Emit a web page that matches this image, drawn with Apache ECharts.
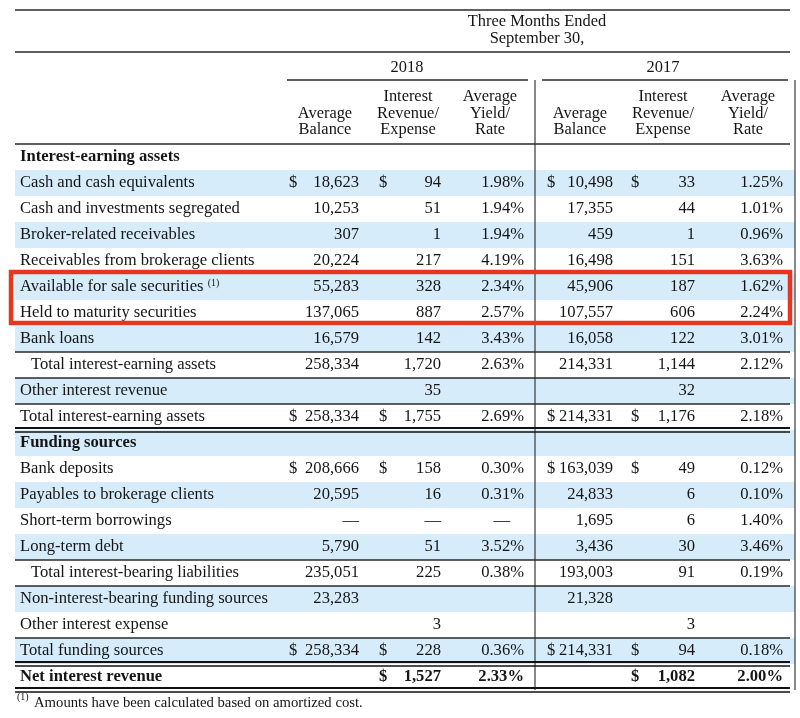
<!DOCTYPE html>
<html><head><meta charset="utf-8">
<script src="https://cdn.jsdelivr.net/npm/echarts@6/dist/echarts.min.js"></script>
<style>html,body{margin:0;padding:0;background:#fff}#c{width:800px;height:718px}</style>
</head><body><div id="c"></div>
<script>
// ---------- DATA ----------
const rowLabels = [
  "Interest-earning assets",
  "Cash and cash equivalents",
  "Cash and investments segregated",
  "Broker-related receivables",
  "Receivables from brokerage clients",
  "Available for sale securities",
  "Held to maturity securities",
  "Bank loans",
  "Total interest-earning assets",
  "Other interest revenue",
  "Total interest-earning assets",
  "Funding sources",
  "Bank deposits",
  "Payables to brokerage clients",
  "Short-term borrowings",
  "Long-term debt",
  "Total interest-bearing liabilities",
  "Non-interest-bearing funding sources",
  "Other interest expense",
  "Total funding sources",
  "Net interest revenue"
];
const boldRows = [0, 11, 20];
const indentRows = [8, 16];
const footnoteRows = [5];
const highlightRows = [5, 6];

const bal2018 = [null, 18623, 10253, 307, 20224, 55283, 137065, 16579, 258334, null, 258334, null, 208666, 20595, "—", 5790, 235051, 23283, null, 258334, null];
const int2018 = [null, 94, 51, 1, 217, 328, 887, 142, 1720, 35, 1755, null, 158, 16, "—", 51, 225, null, 3, 228, 1527];
const yld2018 = [null, 1.98, 1.94, 1.94, 4.19, 2.34, 2.57, 3.43, 2.63, null, 2.69, null, 0.30, 0.31, "—", 3.52, 0.38, null, null, 0.36, 2.33];
const bal2017 = [null, 10498, 17355, 459, 16498, 45906, 107557, 16058, 214331, null, 214331, null, 163039, 24833, 1695, 3436, 193003, 21328, null, 214331, null];
const int2017 = [null, 33, 44, 1, 151, 187, 606, 122, 1144, 32, 1176, null, 49, 6, 6, 30, 91, null, 3, 94, 1082];
const yld2017 = [null, 1.25, 1.01, 0.96, 3.63, 1.62, 2.24, 3.01, 2.12, null, 2.18, null, 0.12, 0.10, 1.40, 3.46, 0.19, null, null, 0.18, 2.00];

const dollarBal2018 = [1, 10, 12, 19];
const dollarInt2018 = [1, 10, 12, 19, 20];
const dollarBal2017 = [1, 10, 12, 19];
const dollarInt2017 = [1, 10, 12, 19, 20];

const periodTitle = ["Three Months Ended", "September 30,"];
const years = ["2018", "2017"];
const colHeaders = [
  ["", "Average", "Balance"],
  ["Interest", "Revenue/", "Expense"],
  ["Average", "Yield/", "Rate"]
];
const footnote = "Amounts have been calculated based on amortized cost.";
const footMark = "(1)";

// row boundaries (top edge of row index) carrying rules
const singleRules = [0, 8, 9, 10, 16, 17, 19];
const doubleRules = [11, 20, 21];

// ---------- LAYOUT ----------
const FONT = '"Liberation Serif", "Times New Roman", serif';
const INK = '#151515';
const LINE = '#2a2a2a';
const VLINE = '#3a3a3a';
const BLUE = '#d6ecfa';
const RED = '#e8351f';
const L = {
  size: 16.6, headSize: 16.4, footSize: 14.7,
  labelX: 20, indentX: 31,
  colRight: [359, 441, 524, 613, 695, 783],
  dollarX: [289, 379, null, 547, 631, null],
  headCenter: [325, 408, 490, 580, 663, 748],
  yearCenter: [407, 663],
  dividers: [535, 795],
  left: 15, right: 790, bandRight: 795,
  boxLeft: 11, boxRight: 790
};

const columns = [bal2018, int2018, yld2018, bal2017, int2017, yld2017];
const colKinds = ['num', 'num', 'pct', 'num', 'num', 'pct'];
const colDollars = [dollarBal2018, dollarInt2018, [], dollarBal2017, dollarInt2017, []];

function fmt(v, kind) {
  if (typeof v === 'string') return v;
  return kind === 'pct' ? v.toFixed(2) + '%' : v.toLocaleString('en-US');
}

// build cell table
const cells = [];
rowLabels.forEach((t, i) => {
  cells.push({
    value: [indentRows.includes(i) ? L.indentX : L.labelX, i],
    text: t, align: 'left', bold: boldRows.includes(i), sup: footnoteRows.includes(i)
  });
});
columns.forEach((col, c) => {
  col.forEach((v, i) => {
    if (v === null) return;
    let x = L.colRight[c];
    if (v === '—' && colKinds[c] === 'pct') x -= 14;
    cells.push({ value: [x, i], text: fmt(v, colKinds[c]), align: 'right', bold: i === 20 });
  });
  colDollars[c].forEach(i => {
    cells.push({ value: [L.dollarX[c], i], text: '$', align: 'left', bold: i === 20 });
  });
});

const bandRows = rowLabels.map((_, i) => i).filter(i => i % 2 === 1);
const nRows = rowLabels.length;

const chart = echarts.init(document.getElementById('c'), null, { renderer: 'canvas' });

function rowBoundaryY(api, b) {
  const h = api.size([0, 1])[1];
  if (b === 0) return api.coord([0, 0])[1] - h / 2;
  return api.coord([0, b - 1])[1] + h / 2;
}

const graphics = [];
function hline(x1, x2, y, w) {
  graphics.push({ type: 'line', z: 10, shape: { x1, y1: y, x2, y2: y }, style: { stroke: LINE, lineWidth: w }, silent: true });
}
function vline(x, y1, y2, w) {
  graphics.push({ type: 'line', z: 10, shape: { x1: x, y1, x2: x, y2 }, style: { stroke: VLINE, lineWidth: w }, silent: true });
}
function gtext(t, x, y, align, size, weight) {
  graphics.push({ type: 'text', z: 10, x, y, style: { text: t, align: align, verticalAlign: 'middle', fontSize: size || L.headSize, fontFamily: FONT, fontWeight: weight || 'normal', fill: INK }, silent: true });
}
hline(L.left, L.right, 10, 1.5);
hline(L.left, L.right, 52, 1.5);
hline(287, 528, 80, 1.5);
hline(542, 788, 80, 1.5);
L.dividers.forEach(x => vline(x, 80, 144, 1.2));
gtext(periodTitle[0], 537, 22, 'center');
gtext(periodTitle[1], 537, 39, 'center');
gtext(years[0], L.yearCenter[0], 68, 'center');
gtext(years[1], L.yearCenter[1], 68, 'center');
const headY = [97, 114, 130];
for (let c = 0; c < 6; c++) {
  colHeaders[c % 3].forEach((t, k) => { if (t) gtext(t, L.headCenter[c], headY[k], 'center'); });
}
gtext(footMark, 17, 697, 'left', 10);
gtext(footnote, 34, 703, 'left', L.footSize);

chart.setOption({
  animation: false,
  grid: { left: 0, right: 0, top: 144, bottom: 28 },
  xAxis: { type: 'value', min: 0, max: 800, show: false },
  yAxis: { type: 'category', data: rowLabels, inverse: true, show: false },
  graphic: graphics,
  series: [
    {
      type: 'custom', name: 'bands', silent: true, z: 1,
      data: bandRows.map(i => [0, i]),
      renderItem(params, api) {
        const p = api.coord([L.left, api.value(1)]);
        const p2 = api.coord([L.bandRight, api.value(1)]);
        const h = api.size([0, 1])[1];
        return { type: 'rect', shape: { x: p[0], y: p[1] - h / 2, width: p2[0] - p[0], height: h }, style: { fill: BLUE } };
      }
    },
    {
      type: 'custom', name: 'dividers', silent: true, z: 3,
      data: L.dividers.map(x => [x, 0]),
      renderItem(params, api) {
        const x = api.coord([api.value(0), 0])[0];
        const y1 = rowBoundaryY(api, 0), y2 = rowBoundaryY(api, nRows);
        return { type: 'line', shape: { x1: x, y1, x2: x, y2 }, style: { stroke: VLINE, lineWidth: 1.2 } };
      }
    },
    {
      type: 'custom', name: 'rules', silent: true, z: 3,
      data: singleRules.map(b => [0, b, 1]).concat(doubleRules.map(b => [0, b, 2])),
      renderItem(params, api) {
        const b = api.value(1);
        const y = rowBoundaryY(api, b);
        const x1 = api.coord([L.left, 0])[0], x2 = api.coord([L.right, 0])[0];
        if (api.value(2) === 1) {
          return { type: 'line', shape: { x1, y1: y, x2, y2: y }, style: { stroke: LINE, lineWidth: 1.4 } };
        }
        return { type: 'group', children: [
          { type: 'line', shape: { x1, y1: y - 2, x2, y2: y - 2 }, style: { stroke: '#111', lineWidth: 2 } },
          { type: 'line', shape: { x1, y1: y + 2, x2, y2: y + 2 }, style: { stroke: '#111', lineWidth: 1.3 } }
        ] };
      }
    },
    {
      type: 'custom', name: 'highlight', silent: true, z: 20,
      data: [[highlightRows[0], highlightRows[highlightRows.length - 1]]],
      renderItem(params, api) {
        const top = rowBoundaryY(api, api.value(0)) - 2;
        const bot = rowBoundaryY(api, api.value(1) + 1) - 3;
        const x1 = api.coord([L.boxLeft, 0])[0], x2 = api.coord([L.boxRight, 0])[0];
        return { type: 'rect', shape: { x: x1, y: top, width: x2 - x1, height: bot - top }, style: { fill: 'none', stroke: RED, lineWidth: 4.5 } };
      }
    },
    {
      type: 'custom', name: 'cells', silent: true, z: 4,
      data: cells.map(c => c.value),
      renderItem(params, api) {
        const d = cells[params.dataIndex];
        const p = api.coord([api.value(0), api.value(1)]);
        const base = { fontSize: L.size, fontFamily: FONT, fontWeight: d.bold ? 'bold' : 'normal', fill: INK };
        if (d.sup) {
          return { type: 'text', x: p[0], y: p[1], style: Object.assign({}, base, {
            text: '{a|' + d.text + '} {s|' + footMark + '}', align: d.align, verticalAlign: 'middle',
            rich: { a: { fontSize: L.size, fontFamily: FONT, fill: INK }, s: { fontSize: 10, fontFamily: FONT, fill: INK, verticalAlign: 'top' } }
          }) };
        }
        return { type: 'text', x: p[0], y: p[1], style: Object.assign(base, { text: d.text, align: d.align, verticalAlign: 'middle' }) };
      }
    }
  ]
});
</script></body></html>
